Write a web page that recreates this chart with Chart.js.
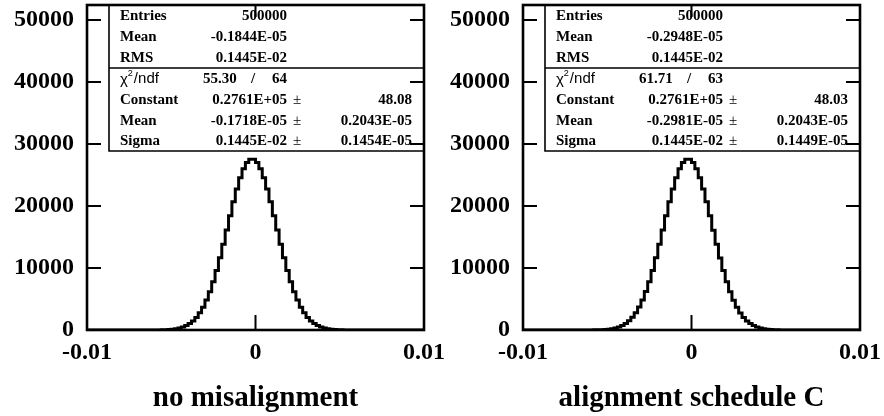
<!DOCTYPE html>
<html>
<head>
<meta charset="utf-8">
<script src="https://cdn.jsdelivr.net/npm/chart.js@4.4.0/dist/chart.umd.min.js"></script>
<style>
  body { margin: 0; background: #fff; }
  #wrap { position: relative; width: 884px; height: 416px; overflow: hidden; }
  canvas { position: absolute; top: 0; }
</style>
</head>
<body>
<div id="wrap">
  <canvas id="left" width="452" height="416" style="left:0"></canvas>
  <canvas id="right" width="442" height="416" style="left:442px"></canvas>
</div>
<script>
// histogram binning: 100 bins between -0.01 and 0.01
const binLo = -0.01, binHi = 0.01, nBins = 100;

// bin contents
const countsNoMis = [
  0, 0, 0, 0, 0, 0, 0, 0, 0, 0, 0, 0, 0, 0, 0, 0,
  1, 1, 2, 4, 7, 12, 20, 33, 54, 88, 139, 216, 330, 493, 723, 1041,
  1470, 2035, 2765, 3685, 4818, 6181, 7779, 9605, 11631, 13819, 16109, 18420,
  20665, 22742, 24553, 26006, 27021, 27544,
  27544, 27021, 26006, 24553, 22742, 20665, 18420, 16109, 13819, 11631,
  9605, 7779, 6181, 4818, 3685, 2765, 2035, 1470, 1041, 723, 493, 330,
  216, 139, 88, 54, 33, 20, 12, 7, 4, 2, 1, 1,
  0, 0, 0, 0, 0, 0, 0, 0, 0, 0, 0, 0, 0, 0, 0, 0
];
const countsSchedC = [
  0, 0, 0, 0, 0, 0, 0, 0, 0, 0, 0, 0, 0, 0, 0, 0,
  1, 1, 2, 4, 8, 12, 21, 33, 55, 89, 140, 218, 332, 495, 726, 1045,
  1474, 2040, 2771, 3692, 4825, 6189, 7787, 9612, 11638, 13826, 16114, 18424,
  20668, 22744, 24553, 26005, 27018, 27540,
  27547, 27023, 26006, 24551, 22738, 20660, 18414, 16102, 13812, 11624,
  9598, 7771, 6173, 4811, 3679, 2759, 2030, 1466, 1037, 720, 491, 328,
  214, 138, 87, 53, 32, 19, 12, 7, 4, 2, 1, 1,
  0, 0, 0, 0, 0, 0, 0, 0, 0, 0, 0, 0, 0, 0, 0, 0
];

const xTicks = [-0.01, 0, 0.01];
const xTickLabels = ['-0.01', '0', '0.01'];
const yTicks = [0, 10000, 20000, 30000, 40000, 50000];
const yMax = 52400;

const titles = ['no misalignment', 'alignment schedule C'];

// statistics box contents
const statNames = ['Entries', 'Mean', 'RMS'];
const statsNoMis = ['500000', '-0.1844E-05', '0.1445E-02'];
const statsSchedC = ['500000', '-0.2948E-05', '0.1445E-02'];
const fitNames = ['Constant', 'Mean', 'Sigma'];
const chiNoMis = ['55.30', '64'];
const chiSchedC = ['61.71', '63'];
const fitValsNoMis = ['0.2761E+05', '-0.1718E-05', '0.1445E-02'];
const fitErrsNoMis = ['48.08', '0.2043E-05', '0.1454E-05'];
const fitValsSchedC = ['0.2761E+05', '-0.2981E-05', '0.1445E-02'];
const fitErrsSchedC = ['48.03', '0.2043E-05', '0.1449E-05'];

const serif = '"Liberation Serif", "Times New Roman", serif';
const sans = '"Liberation Sans", Arial, sans-serif';

// PAW style frame, inward ticks and stats box
const pawFrame = {
  id: 'pawFrame',
  afterDatasetsDraw(chart, args, opts) {
    const { ctx, chartArea: a, scales: { x, y } } = chart;
    ctx.save();
    ctx.strokeStyle = '#000';
    ctx.fillStyle = '#000';

    // stats box
    const bl = a.left + 22;
    ctx.lineWidth = 1.6;
    ctx.beginPath();
    ctx.moveTo(bl, a.top);
    ctx.lineTo(bl, a.top + 146);
    ctx.lineTo(a.right, a.top + 146);
    ctx.moveTo(bl, a.top + 63);
    ctx.lineTo(a.right, a.top + 63);
    ctx.stroke();

    const rows = [11, 32, 53, 74, 95, 116, 136].map(r => a.top + r);
    ctx.textBaseline = 'middle';
    ctx.font = 'bold 15px ' + serif;
    statNames.forEach((n, i) => {
      ctx.textAlign = 'left';
      ctx.fillText(n, bl + 11, rows[i]);
      ctx.textAlign = 'right';
      ctx.fillText(opts.stats[i], bl + 178, rows[i]);
    });

    // chi2 / ndf row
    ctx.textAlign = 'left';
    ctx.font = '15px ' + sans;
    ctx.fillText('\u03c7', bl + 11, rows[3] + 1);
    const cw = ctx.measureText('\u03c7').width;
    ctx.font = '9px ' + sans;
    ctx.fillText('2', bl + 11 + cw, rows[3] - 5);
    ctx.font = '15px ' + sans;
    ctx.fillText('/ndf', bl + 11 + cw + 6, rows[3]);
    ctx.font = 'bold 15px ' + serif;
    ctx.fillText(opts.chi[0], bl + 94, rows[3]);
    ctx.textAlign = 'center';
    ctx.fillText('/', bl + 144, rows[3]);
    ctx.textAlign = 'right';
    ctx.fillText(opts.chi[1], bl + 178, rows[3]);

    fitNames.forEach((n, i) => {
      const ry = rows[4 + i];
      ctx.font = 'bold 15px ' + serif;
      ctx.textAlign = 'left';
      ctx.fillText(n, bl + 11, ry);
      ctx.textAlign = 'right';
      ctx.fillText(opts.vals[i], bl + 178, ry);
      ctx.fillText(opts.errs[i], bl + 303, ry);
      ctx.font = '15px ' + serif;
      ctx.textAlign = 'left';
      ctx.fillText('\u00b1', bl + 184, ry);
    });

    // frame and inward ticks
    ctx.lineWidth = 2.6;
    ctx.strokeRect(a.left, a.top, a.right - a.left, a.bottom - a.top);
    ctx.lineWidth = 2;
    ctx.beginPath();
    yTicks.forEach(v => {
      const py = y.getPixelForValue(v);
      ctx.moveTo(a.left, py); ctx.lineTo(a.left + 14, py);
      ctx.moveTo(a.right, py); ctx.lineTo(a.right - 14, py);
    });
    xTicks.forEach(v => {
      const px = x.getPixelForValue(v);
      ctx.moveTo(px, a.bottom); ctx.lineTo(px, a.bottom - 15);
      ctx.moveTo(px, a.top); ctx.lineTo(px, a.top + 12);
    });
    ctx.stroke();
    ctx.restore();
  }
};

function makeChart(id, counts, title, boxOpts, yWidth, padRight) {
  const step = (binHi - binLo) / nBins;
  const pts = counts.map((c, i) => ({ x: binLo + i * step, y: c }));
  pts.push({ x: binHi, y: counts[counts.length - 1] });

  return new Chart(document.getElementById(id), {
    type: 'line',
    data: {
      datasets: [{
        data: pts,
        stepped: 'after',
        borderColor: '#000',
        borderWidth: 3,
        pointRadius: 0,
        fill: false
      }]
    },
    options: {
      responsive: false,
      animation: false,
      layout: { padding: { left: 0, right: padRight, top: 5, bottom: 0 } },
      plugins: {
        legend: { display: false },
        tooltip: { enabled: false },
        pawFrame: boxOpts
      },
      scales: {
        x: {
          type: 'linear',
          min: binLo,
          max: binHi,
          afterBuildTicks: s => { s.ticks = xTicks.map(v => ({ value: v })); },
          afterFit: s => { s.height = 86; s.paddingLeft = 0; s.paddingRight = 0; },
          ticks: {
            callback: (v, i) => xTickLabels[i],
            font: { family: serif, size: 24, weight: 'bold' },
            color: '#000',
            padding: 8,
            maxRotation: 0,
            autoSkip: false
          },
          grid: { display: false, drawTicks: false },
          border: { display: false },
          title: {
            display: true,
            text: title,
            color: '#000',
            font: { family: serif, size: 29, weight: 'bold' },
            padding: { top: 0, bottom: 0 }
          }
        },
        y: {
          min: 0,
          max: yMax,
          afterBuildTicks: s => { s.ticks = yTicks.map(v => ({ value: v })); },
          afterFit: s => { s.width = yWidth; s.paddingTop = 0; s.paddingBottom = 0; },
          ticks: {
            callback: v => String(v),
            font: { family: serif, size: 24, weight: 'bold' },
            color: '#000',
            padding: 13,
            autoSkip: false
          },
          grid: { display: false, drawTicks: false },
          border: { display: false }
        }
      }
    },
    plugins: [pawFrame]
  });
}

makeChart('left', countsNoMis, titles[0],
  { stats: statsNoMis, chi: chiNoMis, vals: fitValsNoMis, errs: fitErrsNoMis }, 87, 28);
makeChart('right', countsSchedC, titles[1],
  { stats: statsSchedC, chi: chiSchedC, vals: fitValsSchedC, errs: fitErrsSchedC }, 81, 24);
</script>
</body>
</html>
